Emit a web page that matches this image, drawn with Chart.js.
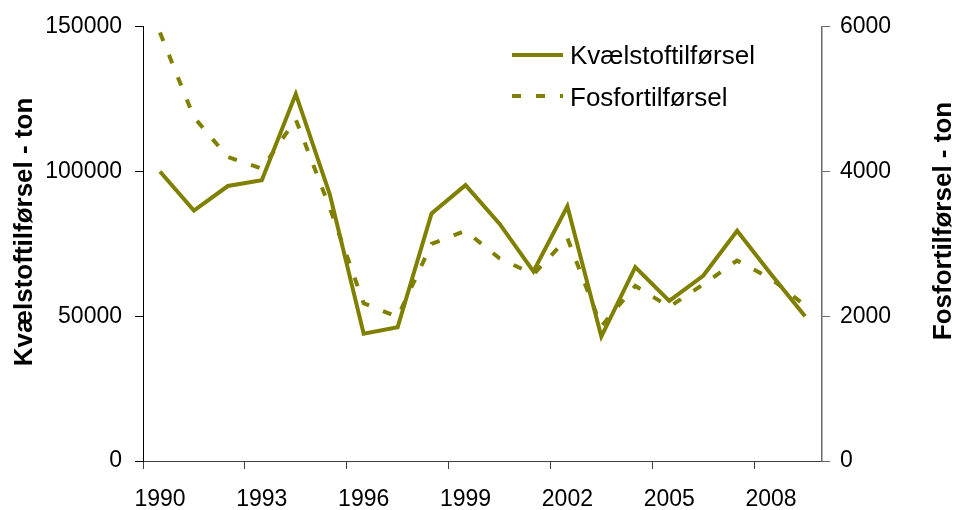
<!DOCTYPE html>
<html><head><meta charset="utf-8">
<script src="https://cdn.jsdelivr.net/npm/chart.js@4/dist/chart.umd.min.js"></script>
<style>html,body{margin:0;padding:0;background:#fff}canvas{display:block}</style>
</head><body>
<canvas id="c" width="957" height="510"></canvas>
<script>
const years = [1990,1991,1992,1993,1994,1995,1996,1997,1998,1999,2000,2001,2002,2003,2004,2005,2006,2007,2008,2009];
const kvaelstof = [100000,86500,95000,97000,126800,92200,44000,46200,85500,95300,82000,65500,88000,43000,67000,55300,64000,79500,64500,50000];
const fosfor = [5920,4750,4200,4040,4720,3500,2180,1990,3000,3180,2800,2580,3080,1860,2420,2130,2440,2770,2520,2150];
const xTickYears = [1990,1993,1996,1999,2002,2005,2008];
const leftTicks = [0,50000,100000,150000];
const rightTicks = [0,2000,4000,6000];
const seriesNames = ['Kvælstoftilførsel','Fosfortilførsel'];
const axisTitles = ['Kvælstoftilførsel - ton','Fosfortilførsel - ton'];

const OLIVE = '#808000';
const FONT = '"Liberation Sans", Arial, sans-serif';
Chart.defaults.font.family = FONT;
Chart.defaults.color = '#000';

const overlay = {
  id: 'overlay',
  afterDraw(chart) {
    const ctx = chart.ctx;
    const ds = chart.data.datasets;
    ctx.save();
    ctx.fillStyle = '#000';
    ctx.font = 'bold 26px ' + FONT;
    ctx.textAlign = 'center';
    ctx.textBaseline = 'alphabetic';
    ctx.save(); ctx.translate(32, 232); ctx.rotate(-Math.PI/2); ctx.fillText(axisTitles[0], 0, 0); ctx.restore();
    ctx.save(); ctx.translate(951, 221); ctx.rotate(-Math.PI/2); ctx.fillText(axisTitles[1], 0, 0); ctx.restore();
    // legend
    const rows = [{y:55, base:64}, {y:96, base:106}];
    ctx.font = '26px ' + FONT;
    ctx.textAlign = 'left';
    rows.forEach((r, i) => {
      ctx.save();
      ctx.strokeStyle = ds[i].borderColor;
      ctx.lineWidth = ds[i].borderWidth;
      ctx.setLineDash(ds[i].borderDash || []);
      ctx.beginPath(); ctx.moveTo(512, r.y); ctx.lineTo(563, r.y); ctx.stroke();
      ctx.restore();
      ctx.fillText(seriesNames[i], 570, r.base);
    });
    ctx.restore();
  }
};

new Chart(document.getElementById('c').getContext('2d'), {
  type: 'line',
  data: {
    labels: years,
    datasets: [
      {label: seriesNames[0], data: kvaelstof, yAxisID: 'yL', borderColor: OLIVE, borderWidth: 4, pointRadius: 0, tension: 0, fill: false},
      {label: seriesNames[1], data: fosfor, yAxisID: 'yR', borderColor: OLIVE, borderWidth: 4, borderDash: [9, 15], pointRadius: 0, tension: 0, fill: false}
    ]
  },
  options: {
    responsive: false, animation: false, devicePixelRatio: 1,
    layout: {padding: {top: 26, bottom: 0, left: 0, right: 0}},
    plugins: {legend: {display: false}, tooltip: {enabled: false}},
    scales: {
      x: {
        type: 'category', offset: true,
        grid: {offset: true, drawOnChartArea: false, tickLength: 8, lineWidth: 1,
               color: c => (c.index !== undefined && c.index % 3 === 0) ? '#404040' : 'rgba(0,0,0,0)'},
        border: {color: '#404040', width: 1},
        ticks: {autoSkip: false, maxRotation: 0, minRotation: 0, padding: 17, font: {size: 23},
                callback: (v, i) => xTickYears.includes(years[i]) ? String(years[i]) : ''},
        afterFit: s => { s.height = 49; }
      },
      yL: {
        position: 'left', min: 0, max: 150000,
        afterBuildTicks: s => { s.ticks = leftTicks.map(v => ({value: v})); },
        grid: {drawOnChartArea: false, tickLength: 8, color: '#000'},
        border: {color: '#000', width: 1},
        ticks: {padding: 13, font: {size: 23}, callback: v => String(v)},
        afterFit: s => { s.width = 143; }
      },
      yR: {
        position: 'right', min: 0, max: 6000,
        afterBuildTicks: s => { s.ticks = rightTicks.map(v => ({value: v})); },
        grid: {drawOnChartArea: false, tickLength: 8, color: '#6a6a6a'},
        border: {color: '#6a6a6a', width: 1.5},
        ticks: {padding: 10, font: {size: 23}, callback: v => String(v)},
        afterFit: s => { s.width = 135; }
      }
    }
  },
  plugins: [overlay]
});
</script>
</body></html>
